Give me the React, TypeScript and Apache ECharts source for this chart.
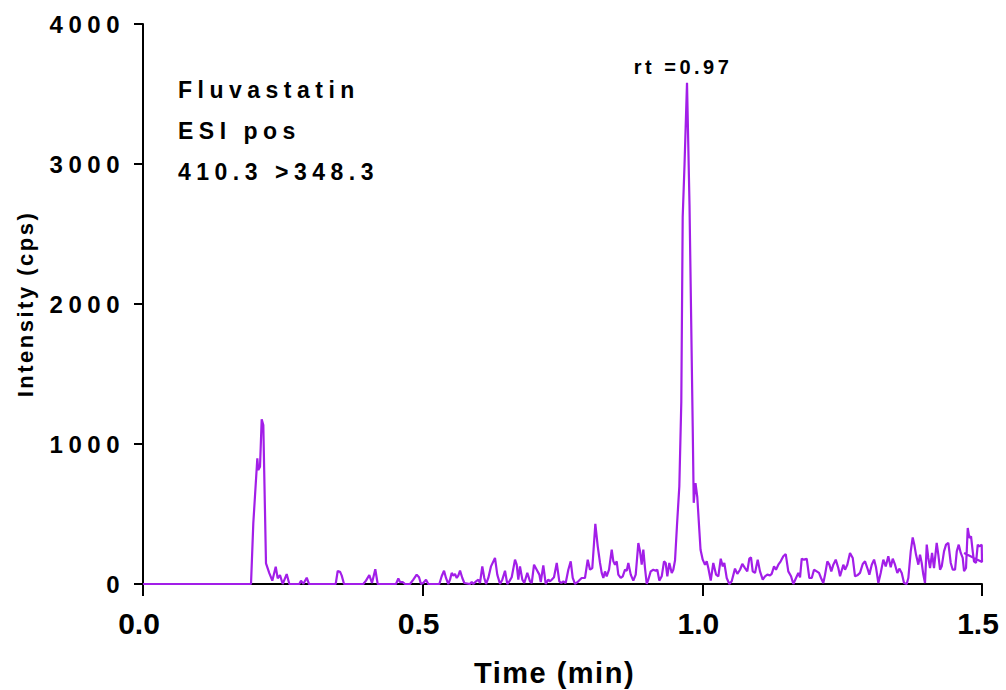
import React, { useEffect, useRef } from "react";
import * as echarts from "echarts";

const times = [
  0, 0.1931, 0.1972, 0.2044, 0.2061, 0.2092, 0.2122, 0.2151, 0.2199, 0.2258, 0.2312, 0.2373, 0.2408, 0.2449, 0.2498, 0.2569, 0.2616,
  0.2794, 0.2825, 0.2866, 0.2927, 0.2968, 0.3445, 0.3481, 0.3522, 0.3553, 0.3594, 0.3939, 0.3987, 0.4046, 0.4094, 0.4153, 0.4196,
  0.4523, 0.4565, 0.4595, 0.4643, 0.4684, 0.4774, 0.4833, 0.4893, 0.4935, 0.497, 0.5011, 0.506, 0.5101, 0.5298, 0.534, 0.5382,
  0.5417, 0.5458, 0.5489, 0.5519, 0.5548, 0.5578, 0.5609, 0.5637, 0.5668, 0.5709, 0.5745, 0.5846, 0.5877, 0.5905, 0.5954, 0.5995,
  0.6025, 0.6066, 0.6102, 0.6133, 0.6174, 0.6222, 0.6293, 0.6334, 0.6383, 0.6424, 0.6472, 0.6513, 0.6549, 0.6592, 0.6651, 0.6681,
  0.671, 0.674, 0.6782, 0.6817, 0.6871, 0.6919, 0.695, 0.6991, 0.7039, 0.7086, 0.7111, 0.7157, 0.72, 0.7246, 0.7277, 0.7307,
  0.7348, 0.7397, 0.7443, 0.7479, 0.7515, 0.7557, 0.7604, 0.7647, 0.7683, 0.7724, 0.7783, 0.7843, 0.7902, 0.7951, 0.7992, 0.8033,
  0.8087, 0.813, 0.8171, 0.8201, 0.823, 0.826, 0.829, 0.8332, 0.838, 0.8409, 0.8439, 0.8469, 0.8498, 0.8541, 0.8577, 0.8618,
  0.8648, 0.8677, 0.872, 0.8766, 0.8809, 0.8856, 0.8886, 0.8916, 0.8945, 0.8975, 0.9006, 0.9034, 0.9077, 0.9124, 0.9166, 0.9195,
  0.9231, 0.9274, 0.9315, 0.9345, 0.9374, 0.941, 0.9453, 0.9481, 0.9512, 0.9547, 0.9589, 0.9624, 0.9649, 0.9682, 0.9726, 0.9771,
  0.9828, 0.9846, 0.9878, 0.991, 0.9946, 0.9968, 1.0007, 1.0048, 1.0078, 1.0107, 1.015, 1.0196, 1.0245, 1.0286, 1.0329, 1.0365,
  1.0393, 1.0436, 1.0483, 1.0525, 1.0584, 1.0626, 1.0674, 1.0715, 1.0763, 1.0804, 1.084, 1.087, 1.0901, 1.0942, 1.099, 1.1031,
  1.108, 1.1121, 1.1162, 1.121, 1.124, 1.1282, 1.1317, 1.1359, 1.1401, 1.1448, 1.1491, 1.1537, 1.1586, 1.1627, 1.1675, 1.1716,
  1.1747, 1.1777, 1.1818, 1.1866, 1.1913, 1.1956, 1.1997, 1.2045, 1.2086, 1.2122, 1.2163, 1.2194, 1.2235, 1.2271, 1.2306, 1.2342,
  1.2385, 1.2431, 1.2462, 1.2521, 1.2551, 1.2592, 1.264, 1.2689, 1.273, 1.2771, 1.2819, 1.2868, 1.2909, 1.295, 1.2986, 1.3029,
  1.307, 1.3105, 1.3147, 1.3189, 1.3236, 1.3279, 1.3325, 1.3368, 1.3404, 1.3445, 1.3486, 1.3522, 1.3565, 1.3606, 1.3654, 1.3683,
  1.3726, 1.3761, 1.379, 1.382, 1.3862, 1.3892, 1.3922, 1.3951, 1.3981, 1.4012, 1.404, 1.4071, 1.4107, 1.4142, 1.419, 1.4219,
  1.425, 1.428, 1.4321, 1.4357, 1.4398, 1.4441, 1.4477, 1.4518, 1.4549, 1.4584, 1.462, 1.4655, 1.4679, 1.4714, 1.4745, 1.4774,
  1.4804, 1.4834, 1.4857, 1.4893, 1.4924, 1.4952, 1.4995, 1.5, 1.4679,
];

const intensity = [
  0, 0, 433, 898, 814, 838, 1176, 1136, 148, 78, 24, 124, 40, 64, 0, 71, 0,
  0, 24, 0, 45, 0, 0, 93, 88, 60, 0, 0, 24, 64, 7, 105, 0,
  0, 40, 14, 14, 0, 0, 31, 67, 48, 0, 7, 31, 0, 0, 55, 95,
  43, 0, 31, 79, 60, 71, 43, 60, 95, 43, 7, 0, 14, 0, 19, 31,
  7, 126, 43, 0, 43, 126, 186, 67, 0, 31, 95, 0, 19, 48, 174, 138,
  31, 126, 31, 7, 79, 19, 7, 138, 102, 67, 14, 133, 0, 31, 19, 31,
  48, 150, 19, 7, 19, 7, 102, 162, 43, 0, 19, 43, 43, 174, 102, 114,
  429, 269, 150, 79, 43, 90, 55, 102, 245, 162, 138, 162, 67, 43, 55, 102,
  95, 150, 67, 24, 67, 293, 233, 138, 245, 114, 0, 31, 90, 102, 95, 102,
  24, 55, 162, 150, 55, 150, 79, 102, 170, 420, 700, 1300, 2620, 3000, 3580, 2700,
  1124, 580, 720, 620, 386, 245, 174, 138, 162, 114, 24, 150, 67, 55, 181, 126,
  150, 43, 0, 19, 110, 72, 102, 143, 114, 90, 181, 190, 90, 79, 174, 90,
  31, 55, 67, 62, 72, 126, 102, 138, 162, 198, 214, 90, 55, 0, 43, 79,
  48, 181, 174, 181, 43, 43, 102, 90, 79, 43, 7, 67, 162, 138, 90, 138,
  174, 114, 55, 138, 102, 138, 222, 186, 55, 62, 79, 143, 162, 114, 67, 138,
  174, 119, 7, 79, 174, 126, 198, 119, 181, 138, 79, 110, 79, 7, 0, 43,
  233, 333, 281, 210, 138, 210, 150, 67, 7, 281, 186, 114, 222, 114, 293, 210,
  102, 126, 233, 281, 293, 150, 102, 102, 233, 281, 222, 186, 91, 114, 400, 329,
  340, 233, 162, 150, 281, 269, 281, 157, 221,
];

const yTicks = [0, 1000, 2000, 3000, 4000];
const xTicks = [0, 0.5, 1.0, 1.5];
const annotationLines = ["Fluvastatin", "ESI pos", "410.3 >348.3"];
const peakLabel = "rt =0.97";

const FONT = '"Liberation Sans", Arial, Helvetica, sans-serif';

export default function App() {
  const ref = useRef<HTMLDivElement>(null);

  useEffect(() => {
    if (!ref.current) return;
    const chart = echarts.init(ref.current, null, { renderer: "svg" });
    const data = times.map((t, i) => [t, intensity[i]]);
    chart.setOption({
      animation: false,
      backgroundColor: "#ffffff",
      grid: { left: 143, right: 24, top: 24, bottom: 106, containLabel: false, outerBoundsMode: "none" },
      xAxis: {
        type: "value",
        min: xTicks[0],
        max: xTicks[xTicks.length - 1],
        interval: 0.5,
        name: "Time (min)",
        nameLocation: "middle",
        nameGap: 74,
        nameTextStyle: {
          fontFamily: FONT,
          fontWeight: "bold",
          fontSize: 29,
          color: "#000",
          padding: [0, 16, 0, 0],
        },
        axisLine: { show: true, onZero: false, lineStyle: { color: "#000", width: 2 } },
        axisTick: { show: true, length: 12, lineStyle: { color: "#000", width: 2 } },
        axisLabel: {
          margin: 24,
          fontFamily: FONT,
          fontWeight: "bold",
          fontSize: 30,
          color: "#000",
          padding: [0, 8, 0, 0],
          formatter: (v: number) => v.toFixed(1),
        },
        splitLine: { show: false },
      },
      yAxis: {
        type: "value",
        min: yTicks[0],
        max: yTicks[yTicks.length - 1],
        interval: 1000,
        name: "Intensity (cps)",
        nameLocation: "middle",
        nameGap: 107,
        nameRotate: 90,
        nameTextStyle: { fontFamily: FONT, fontWeight: "bold", fontSize: 22, color: "#000" },
        axisLine: { show: true, lineStyle: { color: "#000", width: 2 } },
        axisTick: { show: true, length: 9, lineStyle: { color: "#000", width: 2 } },
        axisLabel: {
          margin: 18,
          fontFamily: FONT,
          fontWeight: "bold",
          fontSize: 24,
          color: "#000",
          formatter: (v: number) => String(v),
        },
        splitLine: { show: false },
      },
      series: [
        {
          type: "line",
          data,
          showSymbol: false,
          symbol: "none",
          lineStyle: { color: "#a21ee8", width: 2.2 },
          itemStyle: { color: "#a21ee8" },
          z: 1,
        },
      ],
      graphic: [
        ...annotationLines.map((txt, i) => ({
          type: "text",
          x: 178,
          y: 90 + i * 41,
          style: {
            text: txt,
            fontFamily: FONT,
            fontWeight: "bold",
            fontSize: 23,
            fill: "#000",
            textAlign: "left",
            textVerticalAlign: "middle",
          },
        })),
        {
          type: "text",
          x: 683,
          y: 67,
          style: {
            text: peakLabel,
            fontFamily: FONT,
            fontWeight: "bold",
            fontSize: 20,
            fill: "#000",
            textAlign: "center",
            textVerticalAlign: "middle",
          },
        },
      ],
    });
    return () => chart.dispose();
  }, []);

  return (
    <>
      <style>{`
        .chartbox text { letter-spacing: 3px; }
        .chartbox text[style*="24px"] { letter-spacing: 5.5px; }
        .chartbox text[style*="23px"] { letter-spacing: 5.5px; }
        .chartbox text[style*="22px"] { letter-spacing: 2.5px; }
        .chartbox text[style*="20px"] { letter-spacing: 3.5px; }
        .chartbox text[style*="30px"] { letter-spacing: 0px; }
        .chartbox text[style*="29px"] { letter-spacing: 1.5px; }
      `}</style>
      <div
        ref={ref}
        className="chartbox"
        style={{ position: "fixed", left: 0, top: 0, width: 1006, height: 690, background: "#fff" }}
      />
    </>
  );
}
